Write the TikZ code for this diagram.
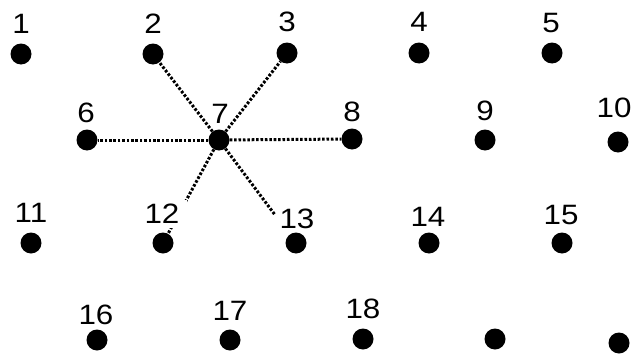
\documentclass[tikz,border=0pt]{standalone}
\usepackage{fontspec}
\setmainfont{Liberation Sans}[FakeStretch=1.12]
\begin{document}
\begin{tikzpicture}[x=1pt,y=-1pt,
  dotnode/.style={circle,fill=black,inner sep=0pt,minimum size=21pt},
  lbl/.style={font=\fontsize{28}{28}\selectfont,inner sep=1pt,fill=white},
  dotline/.style={line width=3pt,dash pattern=on 2.6pt off 1.8pt}]
\useasboundingbox[fill=white] (0,0) rectangle (632,356);
% dots
\node[dotnode] (n1) at (21,54) {};
\node[dotnode] (n2) at (153,54) {};
\node[dotnode] (n3) at (287,53) {};
\node[dotnode] (n4) at (419,53) {};
\node[dotnode] (n5) at (552,53) {};
\node[dotnode] (n6) at (87,140) {};
\node[dotnode] (n7) at (219,140) {};
\node[dotnode] (n8) at (352,139) {};
\node[dotnode] (n9) at (485,140) {};
\node[dotnode] (n10) at (618,142) {};
\node[dotnode] (n11) at (31,243) {};
\node[dotnode] (n12) at (163,243) {};
\node[dotnode] (n13) at (296,243) {};
\node[dotnode] (n14) at (429,243) {};
\node[dotnode] (n15) at (562,243) {};
\node[dotnode] (n16) at (97,340) {};
\node[dotnode] (n17) at (230,340) {};
\node[dotnode] (n18) at (363,339) {};
\node[dotnode] (n19) at (495,339) {};
\node[dotnode] (n20) at (619,343) {};
% connectors
\draw[dotline] (n7) -- (n2);
\draw[dotline] (n7) -- (n3);
\draw[dotline] (n7) -- (n6);
\draw[dotline] (n7) -- (n8);
\draw[dotline] (n7) -- (n12);
\draw[dotline,shorten >=24pt] (n7) -- (n13);
% labels
\node[lbl] (l1) at (21,24) {1};
\node[lbl] (l2) at (153,24) {2};
\node[lbl] (l3) at (287,22) {3};
\node[lbl] (l4) at (419,22) {4};
\node[lbl] (l5) at (551,23) {5};
\node[lbl] (l6) at (86,113) {6};
\node[lbl] (l7) at (220,114) {7};
\node[lbl] (l8) at (352,112) {8};
\node[lbl] (l9) at (485,111) {9};
\node[lbl] (l10) at (614,108) {10};
\node[lbl] (l11) at (31,213) {11};
\node[lbl,inner xsep=8pt,inner ysep=4pt] (l12) at (162,214) {12};
\node[lbl] (l13) at (297,219) {13};
\node[lbl] (l14) at (428,217) {14};
\node[lbl] (l15) at (561,215) {15};
\node[lbl] (l16) at (96,315) {16};
\node[lbl] (l17) at (230,311) {17};
\node[lbl] (l18) at (363,309) {18};
\end{tikzpicture}
\end{document}
